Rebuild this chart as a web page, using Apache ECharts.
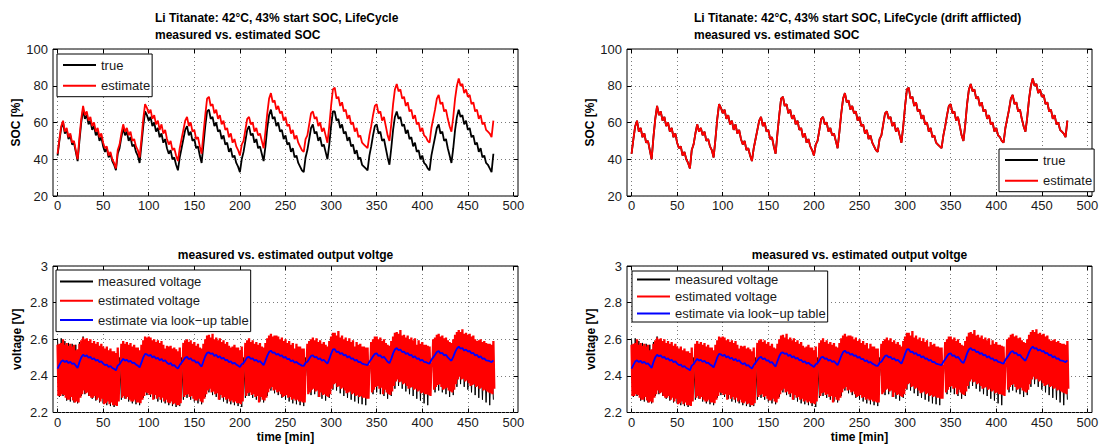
<!DOCTYPE html>
<html><head><meta charset="utf-8">
<script src="https://cdn.jsdelivr.net/npm/echarts@6/dist/echarts.min.js"></script>
<style>html,body{margin:0;padding:0;background:#fff}#c{width:1107px;height:446px}</style>
</head><body><div id="c"></div>
<script>
// ---------------- DATA ----------------
const SOC_STEP_MIN = 2;   // minutes between SOC / voltage samples
const MEAS_STEP_MIN = 4;  // minutes between measured-voltage envelope samples

const socTrue = [
42,50,57,60,54,56,51,53,48,49,44,39,50,60,67,62,64,59,61,56,58,53,55,50,52,47,44,46,41,43,39,37,34,
43,46,52,57,53,55,50,52,47,48,44,42,38,48,58,66,64,61,63,58,60,55,57,52,54,49,51,46,43,45,40,41,37,34,41,
46,51,56,58,53,55,50,51,46,47,42,38,48,58,66,67,62,63,58,60,55,56,51,53,48,49,44,46,41,42,38,36,33,40,
44,50,56,58,53,54,49,51,46,47,43,39,47,57,64,67,62,63,58,60,55,56,51,53,48,49,44,46,41,42,38,36,34,33,41,
45,51,57,59,54,55,50,52,47,48,44,40,48,58,66,66,61,62,57,59,54,55,50,52,47,48,43,45,40,41,37,36,35,34,
42,47,53,58,59,54,55,50,51,46,41,37,46,56,63,66,62,63,58,59,54,56,51,52,47,49,44,45,40,42,38,37,35,34,
42,47,52,57,59,54,55,50,51,46,42,38,46,56,63,67,63,64,59,61,56,57,52,53,48,49,44,46,41,42,38,37,35,33,43
];
const socEstimate = [
43,51,58,61,55,57,52,54,49,50,45,40,52,62,69,64,66,61,63,58,60,55,57,52,54,49,46,47,42,44,40,38,35,
45,48,54,59,55,57,53,55,50,51,47,45,41,51,62,70,68,65,67,62,64,59,61,56,59,54,56,51,48,50,45,46,42,39,46,
51,56,61,63,58,60,55,56,51,52,47,43,54,64,73,74,69,70,65,67,62,64,59,61,56,57,52,54,49,51,47,45,42,48,
50,56,62,63,59,60,55,57,53,54,50,46,55,65,73,76,71,72,67,69,65,66,61,63,58,59,54,56,51,53,49,47,45,44,51,
53,59,65,66,62,63,58,60,55,57,53,49,58,69,78,79,73,74,69,71,66,67,62,64,59,60,55,57,52,53,49,48,47,46,
53,58,64,69,70,65,66,61,63,58,53,50,59,70,78,81,77,78,73,74,69,71,66,67,62,64,59,60,55,57,53,52,50,49,
57,62,67,73,75,70,71,66,67,62,58,55,63,73,80,84,80,81,76,78,74,75,70,71,66,67,62,64,59,60,56,55,54,52,61
];
// drift afflicted "true" SOC coincides with the estimate in the right panel
const socTrueDrift = socEstimate;

// estimated voltage: upper envelope (even minutes) and lower envelope (odd minutes)
const vEstHi = [
2.57,2.575,2.58,2.6,2.57,2.58,2.565,2.575,2.56,2.57,2.54,2.545,2.575,2.595,2.61,2.6,2.605,2.59,2.6,2.58,2.59,2.575,2.585,2.565,2.575,2.56,2.55,2.56,2.54,2.55,2.535,2.535,2.525,
2.555,2.46,2.575,2.59,2.575,2.585,2.57,2.58,2.56,2.57,2.555,2.555,2.54,2.57,2.595,2.615,2.61,2.615,2.61,2.595,2.6,2.585,2.595,2.58,2.59,2.57,2.55,2.565,2.56,2.565,2.55,2.555,2.545,2.535,2.555,
2.46,2.58,2.595,2.6,2.585,2.595,2.575,2.585,2.565,2.575,2.555,2.55,2.575,2.6,2.62,2.625,2.61,2.63,2.6,2.61,2.595,2.605,2.585,2.595,2.575,2.585,2.565,2.555,2.56,2.57,2.555,2.555,2.54,2.56,
2.46,2.58,2.595,2.605,2.585,2.595,2.575,2.585,2.57,2.58,2.56,2.555,2.58,2.605,2.62,2.63,2.615,2.62,2.62,2.615,2.6,2.61,2.59,2.6,2.58,2.59,2.57,2.58,2.55,2.575,2.56,2.56,2.55,2.55,2.46,
2.575,2.59,2.6,2.61,2.595,2.605,2.585,2.595,2.575,2.585,2.57,2.56,2.59,2.615,2.635,2.635,2.62,2.645,2.61,2.62,2.6,2.61,2.59,2.605,2.585,2.595,2.56,2.585,2.57,2.575,2.56,2.56,2.555,2.555,
2.46,2.585,2.6,2.615,2.615,2.6,2.61,2.59,2.6,2.58,2.57,2.565,2.59,2.615,2.635,2.64,2.63,2.65,2.62,2.625,2.61,2.62,2.6,2.61,2.595,2.605,2.57,2.595,2.575,2.585,2.57,2.57,2.565,2.56,
2.47,2.6,2.61,2.625,2.63,2.615,2.62,2.605,2.61,2.595,2.585,2.58,2.6,2.625,2.64,2.65,2.64,2.655,2.63,2.635,2.625,2.63,2.615,2.62,2.6,2.59,2.595,2.6,2.585,2.59,2.58,2.575,2.575,2.57,2.59
];
const vEstLo = [
2.29,2.29,2.30,2.295,2.28,2.27,2.27,2.285,2.265,2.255,2.26,2.255,2.28,2.30,2.32,2.305,2.31,2.29,2.28,2.28,2.29,2.27,2.28,2.26,2.275,2.245,2.25,2.26,2.245,2.255,2.24,2.24,2.235,
2.26,2.44,2.28,2.29,2.275,2.285,2.27,2.26,2.26,2.27,2.255,2.255,2.25,2.27,2.29,2.31,2.305,2.295,2.30,2.27,2.295,2.275,2.285,2.27,2.28,2.26,2.27,2.255,2.25,2.26,2.245,2.25,2.24,2.24,2.25,
2.44,2.285,2.295,2.30,2.285,2.29,2.275,2.265,2.265,2.275,2.26,2.255,2.275,2.30,2.32,2.33,2.31,2.315,2.30,2.305,2.27,2.295,2.28,2.285,2.27,2.275,2.26,2.265,2.255,2.26,2.25,2.25,2.245,2.26,
2.44,2.29,2.305,2.31,2.295,2.30,2.285,2.29,2.255,2.285,2.27,2.265,2.28,2.31,2.33,2.34,2.32,2.325,2.31,2.315,2.30,2.285,2.29,2.295,2.28,2.285,2.27,2.275,2.265,2.27,2.26,2.26,2.255,2.255,2.44,
2.30,2.31,2.325,2.33,2.315,2.32,2.285,2.31,2.295,2.30,2.29,2.285,2.30,2.33,2.355,2.36,2.34,2.345,2.33,2.335,2.32,2.305,2.31,2.315,2.30,2.305,2.29,2.295,2.285,2.29,2.28,2.28,2.275,2.275,
2.44,2.31,2.325,2.34,2.345,2.33,2.335,2.30,2.325,2.31,2.30,2.295,2.315,2.345,2.37,2.38,2.365,2.37,2.355,2.36,2.345,2.33,2.335,2.34,2.325,2.33,2.315,2.32,2.305,2.31,2.30,2.30,2.295,2.29,
2.45,2.325,2.34,2.35,2.355,2.34,2.325,2.33,2.335,2.32,2.315,2.31,2.325,2.355,2.38,2.395,2.38,2.385,2.37,2.375,2.36,2.345,2.35,2.355,2.34,2.345,2.33,2.335,2.32,2.325,2.315,2.31,2.305,2.30,2.33
];
// measured voltage: upper envelope (t = 0,4,8..) and lower envelope (t = 2,6,10..)
const vMeasHi = [
2.60,2.605,2.59,2.58,2.575,2.57,2.585,2.615,2.60,2.59,2.58,2.57,2.565,2.545,2.535,2.525,2.52,
2.50,2.58,2.575,2.565,2.555,2.545,2.56,2.605,2.595,2.585,2.575,2.565,2.56,2.55,2.545,2.535,2.525,
2.50,2.585,2.575,2.57,2.56,2.55,2.565,2.605,2.6,2.59,2.575,2.565,2.56,2.55,2.54,2.535,2.525,2.50,
2.585,2.58,2.57,2.56,2.55,2.565,2.60,2.605,2.59,2.58,2.57,2.56,2.55,2.545,2.535,2.53,2.50,
2.585,2.59,2.58,2.57,2.56,2.55,2.58,2.61,2.60,2.59,2.58,2.57,2.56,2.55,2.54,2.535,2.53,
2.50,2.59,2.585,2.575,2.565,2.55,2.58,2.61,2.60,2.59,2.58,2.57,2.56,2.55,2.545,2.535,2.53,
2.58,2.59,2.585,2.575,2.565,2.55,2.58,2.615,2.60,2.59,2.58,2.57,2.56,2.55,2.545,2.535,2.53
];
const vMeasLo = [
2.285,2.29,2.265,2.26,2.255,2.25,2.29,2.30,2.29,2.275,2.265,2.255,2.25,2.24,2.235,2.23,2.40,
2.27,2.275,2.26,2.25,2.245,2.24,2.28,2.295,2.285,2.275,2.26,2.255,2.25,2.24,2.235,2.23,2.235,
2.27,2.28,2.27,2.26,2.25,2.245,2.285,2.31,2.295,2.285,2.27,2.26,2.25,2.245,2.24,2.235,2.23,2.28,
2.29,2.28,2.27,2.26,2.255,2.29,2.32,2.305,2.295,2.28,2.27,2.26,2.25,2.245,2.24,2.235,2.40,
2.295,2.30,2.285,2.275,2.265,2.28,2.325,2.32,2.305,2.29,2.28,2.27,2.26,2.25,2.245,2.24,2.40,
2.30,2.31,2.30,2.29,2.275,2.29,2.33,2.345,2.33,2.315,2.30,2.29,2.275,2.265,2.25,2.24,2.40,
2.31,2.32,2.31,2.30,2.285,2.295,2.34,2.355,2.34,2.325,2.31,2.295,2.28,2.27,2.255,2.24,2.27
];
// look-up table voltage estimate
const vLookup = [
2.44,2.46,2.478,2.485,2.476,2.482,2.47,2.477,2.465,2.468,2.456,2.443,2.475,2.501,2.515,2.507,2.512,2.499,2.504,2.491,2.496,2.483,2.488,2.475,2.480,2.467,2.459,2.462,2.448,2.454,2.443,2.438,2.430,
2.456,2.464,2.480,2.493,2.483,2.488,2.477,2.483,2.470,2.472,2.462,2.456,2.446,2.472,2.501,2.52,2.517,2.509,2.515,2.501,2.507,2.493,2.499,2.485,2.493,2.480,2.485,2.472,2.464,2.470,2.456,2.459,2.448,2.440,2.459,
2.472,2.485,2.499,2.504,2.491,2.496,2.483,2.485,2.472,2.475,2.462,2.451,2.480,2.507,2.525,2.528,2.520,2.523,2.509,2.515,2.501,2.507,2.493,2.499,2.485,2.488,2.475,2.480,2.467,2.472,2.462,2.456,2.448,2.464,
2.470,2.485,2.501,2.504,2.493,2.496,2.483,2.488,2.477,2.480,2.470,2.459,2.483,2.509,2.530,2.538,2.525,2.528,2.515,2.520,2.509,2.512,2.499,2.504,2.491,2.493,2.480,2.485,2.472,2.477,2.467,2.462,2.456,2.454,2.472,
2.477,2.493,2.509,2.512,2.501,2.504,2.491,2.496,2.483,2.488,2.477,2.467,2.491,2.520,2.544,2.546,2.530,2.533,2.520,2.525,2.512,2.515,2.501,2.507,2.493,2.496,2.483,2.488,2.475,2.477,2.467,2.464,2.462,2.459,
2.477,2.491,2.507,2.520,2.523,2.509,2.512,2.499,2.504,2.491,2.477,2.470,2.493,2.523,2.544,2.552,2.541,2.544,2.530,2.533,2.520,2.525,2.512,2.515,2.501,2.507,2.493,2.496,2.483,2.488,2.477,2.475,2.470,2.467,
2.488,2.501,2.515,2.530,2.536,2.523,2.525,2.512,2.515,2.501,2.491,2.483,2.504,2.530,2.549,2.560,2.549,2.552,2.538,2.544,2.533,2.536,2.523,2.525,2.512,2.515,2.501,2.507,2.493,2.496,2.485,2.483,2.480,2.475,2.485
];

const xTicks = {min: 0, max: 500, interval: 50};
const socTicks = {min: 20, max: 100, interval: 20};
const voltTicks = {min: 2.2, max: 3, interval: 0.2};

const titleTopLeft = 'Li Titanate: 42°C, 43% start SOC, LifeCycle\nmeasured vs. estimated SOC';
const titleTopRight = 'Li Titanate: 42°C, 43% start SOC, LifeCycle (drift afflicted)\nmeasured vs. estimated SOC';
const titleBottom = 'measured vs. estimated output voltge';
const socLegend = ['true', 'estimate'];
const voltLegend = ['measured voltage', 'estimated voltage', 'estimate via look\u2212up table'];

// ---------------- BUILD ----------------
const FONT = '"Liberation Sans", Arial, Helvetica, sans-serif';
const toPairs = (arr, step) => arr.map((v, i) => [i * step, v]);
function zigzag(hi, lo, step) {
  const out = [];
  for (let i = 0; i < hi.length; i++) {
    out.push([i * step, hi[i]]);
    out.push([i * step + step / 2, lo[i]]);
  }
  return out;
}

const boxes = [
  {L: 53, T: 49, W: 465, H: 147},
  {L: 627, T: 49, W: 465, H: 147},
  {L: 53, T: 266, W: 465, H: 146.5},
  {L: 627, T: 266, W: 465, H: 146.5}
];
const XLIM = [-5, 505];

const grid = [], xAxis = [], yAxis = [];
const dotted = {show: true, lineStyle: {color: '#7a7a7a', type: [1, 3], width: 1}};
const tickStyle = {show: true, inside: true, length: 4, lineStyle: {color: '#000', width: 1}};
const labelStyle = {color: '#1a1a1a', fontSize: 13, fontFamily: FONT};
boxes.forEach((b, p) => {
  const yt = p < 2 ? socTicks : voltTicks;
  const yName = p < 2 ? 'SOC [%]' : 'voltage [V]';
  const span = XLIM[1] - XLIM[0];
  grid.push({left: b.L, top: b.T, width: b.W, height: b.H, show: true, borderColor: '#000', borderWidth: 1, backgroundColor: 'transparent'});
  grid.push({left: b.L + b.W * (xTicks.min - XLIM[0]) / span, top: b.T, width: b.W * (xTicks.max - xTicks.min) / span, height: b.H, show: false});
  xAxis.push({type: 'value', gridIndex: 2 * p, min: XLIM[0], max: XLIM[1], show: false});
  xAxis.push({type: 'value', gridIndex: 2 * p + 1, position: 'bottom', min: xTicks.min, max: xTicks.max, interval: xTicks.interval,
    axisLine: {show: false, onZero: false}, axisTick: tickStyle, axisLabel: Object.assign({margin: 3}, labelStyle), splitLine: dotted,
    name: p >= 2 ? 'time [min]' : '', nameLocation: 'middle', nameGap: 18,
    nameTextStyle: {fontWeight: 'bold', fontSize: 12, color: '#000', fontFamily: FONT}});
  xAxis.push({type: 'value', gridIndex: 2 * p + 1, position: 'top', min: xTicks.min, max: xTicks.max, interval: xTicks.interval,
    axisLine: {show: false, onZero: false}, axisTick: tickStyle, axisLabel: {show: false}, splitLine: {show: false}});
  yAxis.push({type: 'value', gridIndex: 2 * p, position: 'left', min: yt.min, max: yt.max, interval: yt.interval,
    axisLine: {show: false, onZero: false}, axisTick: tickStyle, axisLabel: Object.assign({margin: 5}, labelStyle), splitLine: dotted,
    name: yName, nameLocation: 'middle', nameGap: 30,
    nameTextStyle: {fontWeight: 'bold', fontSize: 12, color: '#000', fontFamily: FONT}});
  yAxis.push({type: 'value', gridIndex: 2 * p, position: 'right', min: yt.min, max: yt.max, interval: yt.interval,
    axisLine: {show: false, onZero: false}, axisTick: tickStyle, axisLabel: {show: false}, splitLine: {show: false}});
  yAxis.push({type: 'value', gridIndex: 2 * p + 1, min: yt.min, max: yt.max, show: false});
});

function line(name, p, data, color, width, z) {
  return {name, type: 'line', xAxisIndex: 3 * p + 1, yAxisIndex: 3 * p + 2, data, showSymbol: false, symbol: 'none',
    lineStyle: {color, width, join: 'bevel'}, itemStyle: {color}, silent: true, animation: false, z: z || 2, emphasis: {disabled: true}};
}

const series = [
  line(socLegend[0], 0, toPairs(socTrue, SOC_STEP_MIN), '#000000', 1.8, 2),
  line(socLegend[1], 0, toPairs(socEstimate, SOC_STEP_MIN), '#ff0000', 1.8, 3),
  line(socLegend[0], 1, toPairs(socTrueDrift, SOC_STEP_MIN), '#000000', 1.8, 2),
  line(socLegend[1], 1, toPairs(socEstimate, SOC_STEP_MIN), '#ff0000', 1.8, 3)
];
[2, 3].forEach(p => {
  series.push(line(voltLegend[0], p, zigzag(vMeasHi, vMeasLo, MEAS_STEP_MIN), '#000000', 1, 2));
  series.push(line(voltLegend[1], p, zigzag(vEstHi, vEstLo, SOC_STEP_MIN), '#ff0000', 2.3, 3));
  series.push(line(voltLegend[2], p, toPairs(vLookup, SOC_STEP_MIN), '#0000ff', 1.8, 4));
});

function mkLegend(names, left, top, gap, pad) {
  return {data: names, left, top, orient: 'vertical', itemGap: gap, itemWidth: 33, itemHeight: 2, icon: 'rect',
    padding: pad, backgroundColor: '#fff', borderColor: '#000', borderWidth: 1, borderRadius: 0, selectedMode: false,
    textStyle: {fontSize: 13, color: '#1a1a1a', fontFamily: FONT}, z: 10};
}
const legend = [
  mkLegend(socLegend, 57, 54, 7.7, [4.5, 2, 4.5, 6]),
  mkLegend(socLegend, 999, 149, 7.7, [4.5, 2, 4.5, 6]),
  mkLegend(voltLegend, 56, 270, 6.3, [5, 2, 5, 4]),
  mkLegend(voltLegend, 632, 271, 4, [2, 2, 2, 5])
];

const tStyle = {fontSize: 12, fontWeight: 'bold', color: '#000', lineHeight: 17, fontFamily: FONT};
const title = [
  {text: titleTopLeft, left: 155, top: 9.5, padding: 0, textStyle: tStyle},
  {text: titleTopRight, left: 694, top: 9.5, padding: 0, textStyle: tStyle},
  {text: titleBottom, left: 53 + 465 / 2, top: 246, padding: 0, textAlign: 'center', textStyle: tStyle},
  {text: titleBottom, left: 627 + 465 / 2, top: 246, padding: 0, textAlign: 'center', textStyle: tStyle}
];

const chart = echarts.init(document.getElementById('c'), null, {renderer: 'svg'});
chart.setOption({animation: false, backgroundColor: '#fff', textStyle: {fontFamily: FONT},
  title, legend, grid, xAxis, yAxis, series});
</script></body></html>
